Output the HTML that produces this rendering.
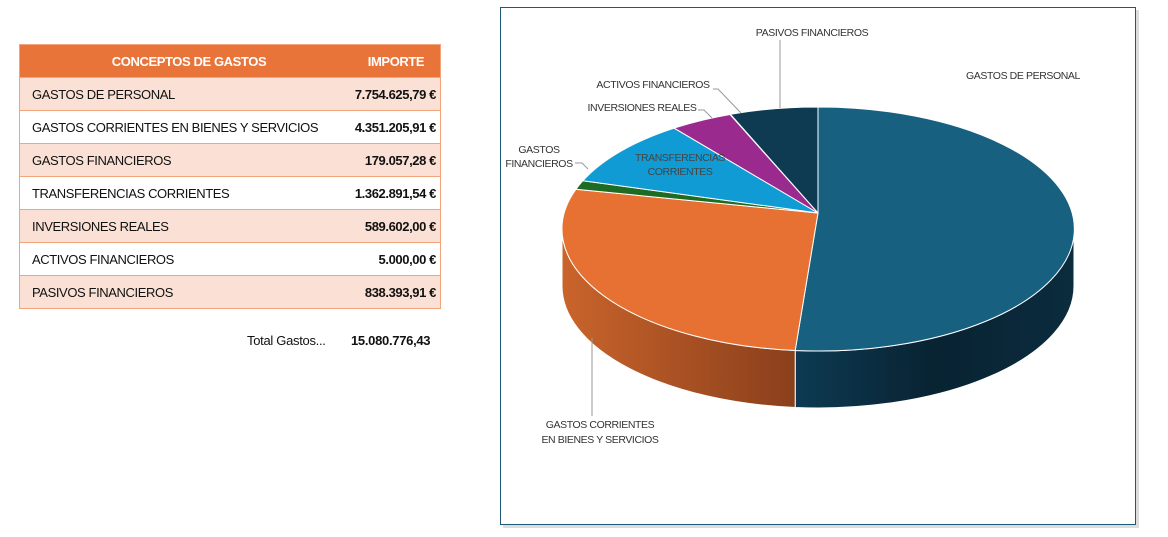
<!DOCTYPE html>
<html><head><meta charset="utf-8"><style>
body{margin:0;width:1168px;height:537px;background:#fff;position:relative;font-family:"Liberation Sans",sans-serif;overflow:hidden}
table{position:absolute;left:19px;top:44px;border-collapse:collapse;width:422px;font-size:13px;color:#111;letter-spacing:-0.4px;white-space:nowrap}
td,th{height:32px;border-top:1px solid #f2a57c;padding:0}
th{background:#e8743a;color:#fff;font-weight:bold;font-size:13px}
tr.o td{background:#fbe1d5}
td.a{padding-left:12px}
td.b{text-align:right;font-weight:bold;padding-right:4px}
table{border:1px solid #f2a57c}
.tot{position:absolute;top:333px;font-size:13px;color:#111;letter-spacing:-0.3px}
svg text{letter-spacing:-0.4px}
</style></head><body>
<table>
<tr><th style="width:310px;padding-left:14px">CONCEPTOS DE GASTOS</th><th style="padding-left:8px">IMPORTE</th></tr>
<tr class="o"><td class="a">GASTOS DE PERSONAL</td><td class="b">7.754.625,79 €</td></tr>
<tr><td class="a">GASTOS CORRIENTES EN BIENES Y SERVICIOS</td><td class="b">4.351.205,91 €</td></tr>
<tr class="o"><td class="a">GASTOS FINANCIEROS</td><td class="b">179.057,28 €</td></tr>
<tr><td class="a">TRANSFERENCIAS CORRIENTES</td><td class="b">1.362.891,54 €</td></tr>
<tr class="o"><td class="a">INVERSIONES REALES</td><td class="b">589.602,00 €</td></tr>
<tr><td class="a">ACTIVOS FINANCIEROS</td><td class="b">5.000,00 €</td></tr>
<tr class="o"><td class="a">PASIVOS FINANCIEROS</td><td class="b">838.393,91 €</td></tr>
</table>
<div class="tot" style="left:247px">Total Gastos...</div>
<div class="tot" style="left:351px;font-weight:bold">15.080.776,43</div>
<svg width="1168" height="537" style="position:absolute;left:0;top:0">
<defs>
<linearGradient id="og" x1="0" x2="1"><stop offset="0" stop-color="#c9642b"/><stop offset="1" stop-color="#8a3f1c"/></linearGradient>
<linearGradient id="bg" x1="0" x2="1"><stop offset="0" stop-color="#0d3a52"/><stop offset="0.5" stop-color="#082332"/><stop offset="1" stop-color="#0b2c3e"/></linearGradient>
</defs>
<rect x="503" y="10" width="636" height="518" fill="#ddd"/>
<rect x="500.5" y="7.5" width="635" height="517" fill="#fff" stroke="#1d5a78" stroke-width="1"/>
<path d="M1074,229 A256,122 0 0 1 795.2,350.5 L795.2,407.5 A256,122 0 0 0 1074,286 Z" fill="url(#bg)" stroke="#fff" stroke-width="1"/>
<path d="M795.2,350.5 A256,122 0 0 1 562,229 L562,286 A256,122 0 0 0 795.2,407.5 Z" fill="url(#og)" stroke="#fff" stroke-width="1"/>
<g stroke="#fff" stroke-width="1">
<path d="M818,213 L818,107 A256,122 0 1 1 795.2,350.5 Z" fill="#17607f"/>
<path d="M818,213 L795.2,350.5 A256,122 0 0 1 575.9,189.3 Z" fill="#e67132"/>
<path d="M818,213 L575.9,189.3 A256,122 0 0 1 582.9,180.7 Z" fill="#1e6b24"/>
<path d="M818,213 L582.9,180.7 A256,122 0 0 1 674.1,128.1 Z" fill="#119bd5"/>
<path d="M818,213 L674.1,128.1 A256,122 0 0 1 730,114.5 Z" fill="#9b2a8e"/>
<path d="M818,213 L730.5,114.3 A256,122 0 0 1 818,107 Z" fill="#0e3a52"/>
</g>
<g stroke="#999" fill="none" stroke-width="1">
<path d="M780,40 L780,108"/>
<path d="M713,89 L718,89 L741,113"/>
<path d="M698,110 L704,110 L712,118"/>
<path d="M575,163 L582,163 L588,169"/>
<path d="M592,338 L592,416"/>
</g>
<g font-size="10.5" fill="#333" text-anchor="middle">
<text x="812" y="36">PASIVOS FINANCIEROS</text>
<text x="1023" y="79">GASTOS DE PERSONAL</text>
<text x="653" y="88">ACTIVOS FINANCIEROS</text>
<text x="642" y="111">INVERSIONES REALES</text>
<text x="539" y="153">GASTOS</text>
<text x="539" y="167">FINANCIEROS</text>
<text x="680" y="161" fill="#444">TRANSFERENCIAS</text>
<text x="680" y="175" fill="#444">CORRIENTES</text>
<text x="600" y="428">GASTOS CORRIENTES</text>
<text x="600" y="443">EN BIENES Y SERVICIOS</text>
</g>
</svg>
</body></html>
